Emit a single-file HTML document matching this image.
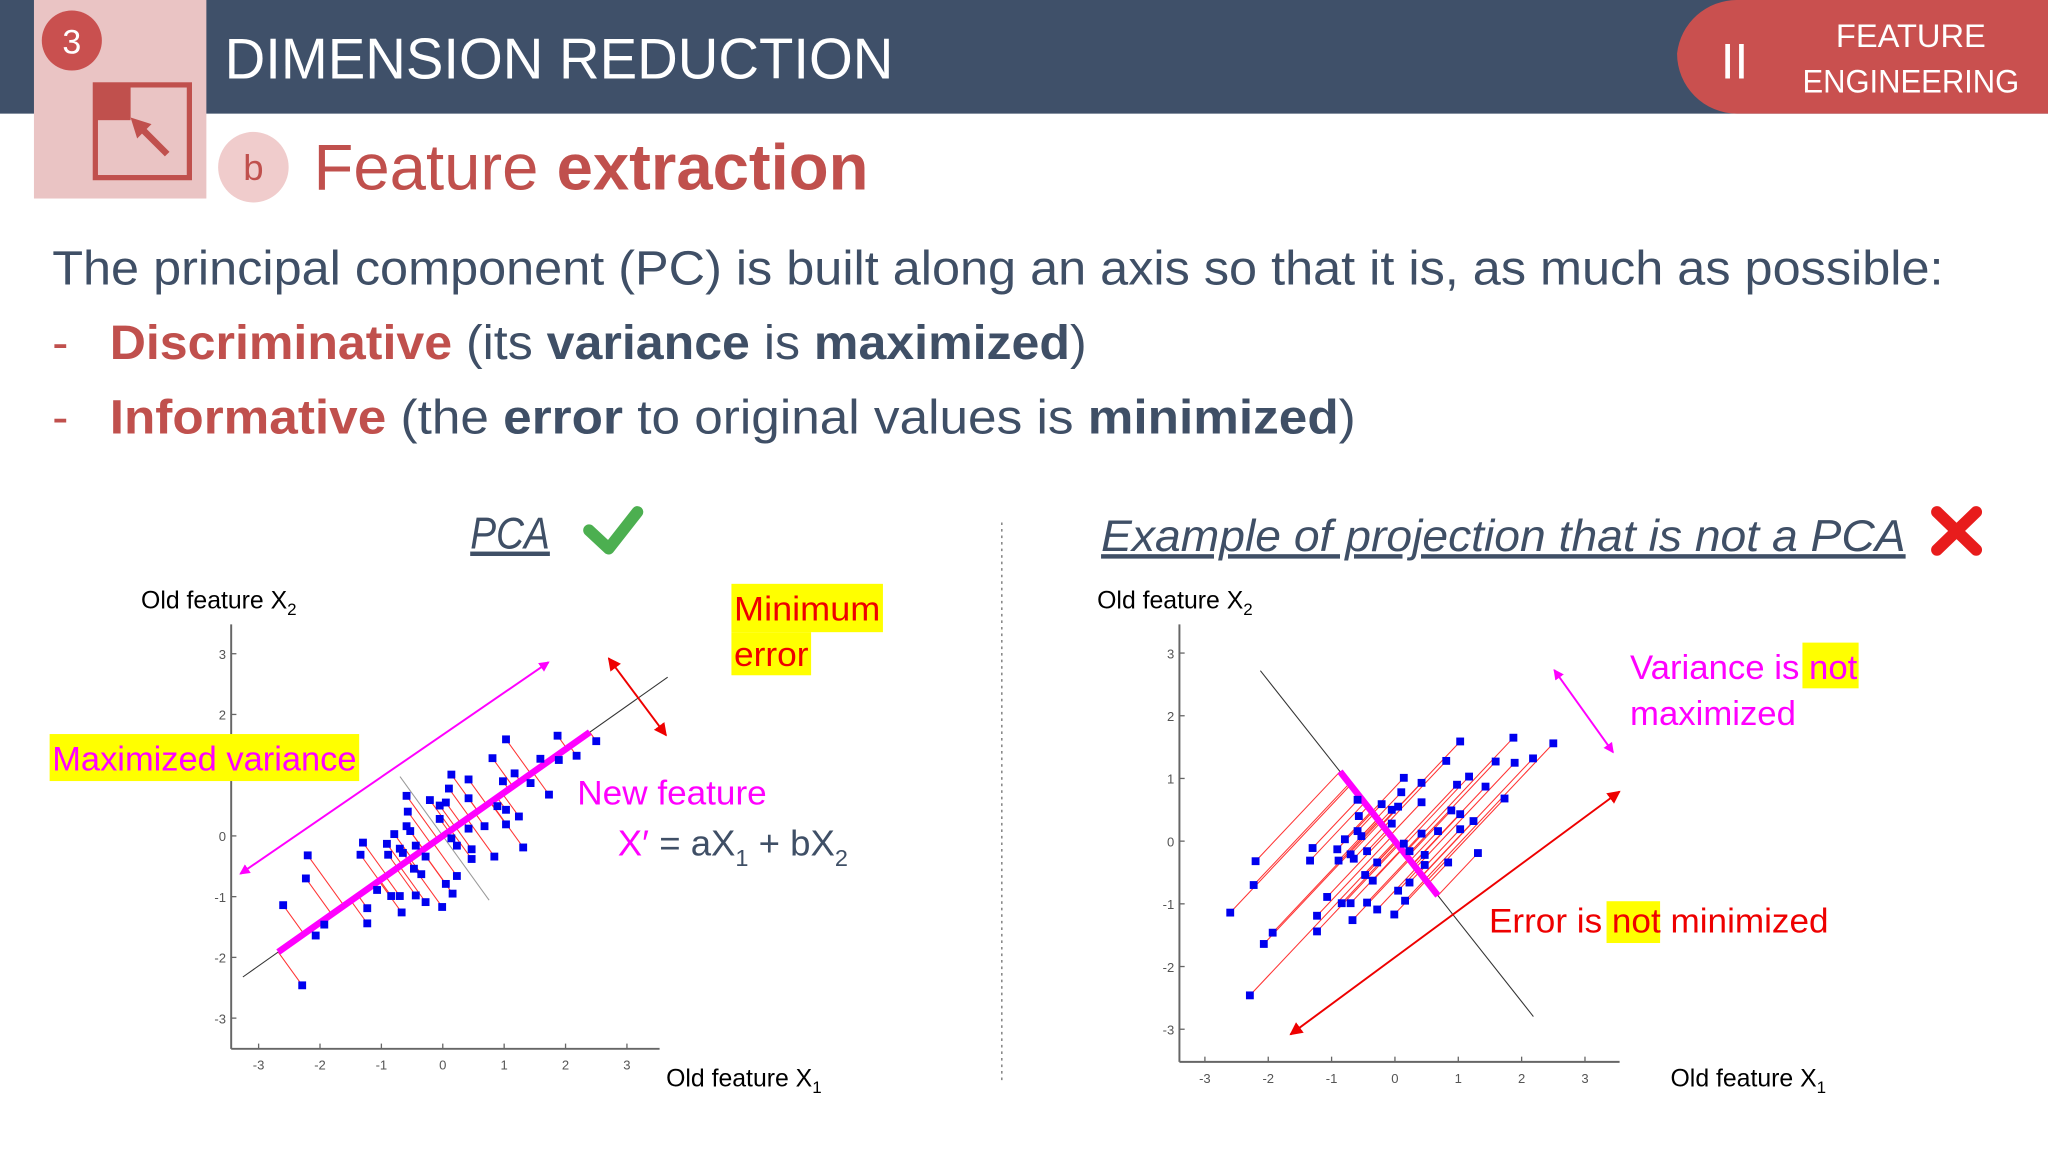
<!DOCTYPE html>
<html><head><meta charset="utf-8">
<style>
html,body{margin:0;padding:0;background:#fff;}
svg{display:block;font-family:"Liberation Sans",sans-serif;}
</style></head>
<body>
<svg id="slide" width="2048" height="1152" viewBox="0 0 1568 882" xmlns="http://www.w3.org/2000/svg">
<defs>
<marker id="mh" markerWidth="8" markerHeight="8" refX="7" refY="4" orient="auto-start-reverse" markerUnits="userSpaceOnUse"><path d="M0,0 L8,4 L0,8 z" fill="#f0f"/></marker>
<marker id="rh" markerWidth="10" markerHeight="10" refX="9" refY="5" orient="auto-start-reverse" markerUnits="userSpaceOnUse"><path d="M0,0 L10,5 L0,10 z" fill="#e00"/></marker>
</defs>
<rect x="0" y="0" width="1568" height="87" fill="#3f5069"/>
<rect x="26" y="0" width="132" height="152" fill="#eac4c4"/>
<circle cx="55" cy="31" r="23" fill="#c9504f"/>
<text x="55" y="41" font-size="26" fill="#fff" text-anchor="middle">3</text>
<rect x="73" y="65" width="72" height="71" fill="none" stroke="#c0504d" stroke-width="4"/>
<rect x="73" y="65" width="27" height="27" fill="#c0504d"/>
<line x1="128" y1="118" x2="106" y2="96" stroke="#c0504d" stroke-width="5"/>
<path d="M100,90 L116,95 L105,106 z" fill="#c0504d"/>
<text x="172" y="60" font-size="44" fill="#fff" textLength="512" lengthAdjust="spacingAndGlyphs">DIMENSION REDUCTION</text>
<path d="M1330,0 H1568 V87 H1330 A46,46 0 0 1 1284,41 A46,46 0 0 1 1330,0 z" fill="#c9504f"/>
<text x="1328" y="60" font-size="38" fill="#fff" text-anchor="middle">II</text>
<text x="1463" y="36" font-size="25" fill="#fff" text-anchor="middle">FEATURE</text>
<text x="1463" y="71" font-size="25" fill="#fff" text-anchor="middle" textLength="166" lengthAdjust="spacingAndGlyphs">ENGINEERING</text>
<circle cx="194" cy="128" r="27" fill="#f0cccc"/>
<text x="194" y="138" font-size="28" fill="#c0504d" text-anchor="middle">b</text>
<text x="240" y="145" font-size="50" fill="#c0504d" textLength="425" lengthAdjust="spacingAndGlyphs">Feature <tspan font-weight="bold">extraction</tspan></text>

<g font-size="37" fill="#3f4f66">
<text x="40" y="218" textLength="1448" lengthAdjust="spacingAndGlyphs">The principal component (PC) is built along an axis so that it is, as much as possible:</text>
<text x="40" y="275" fill="#c0504d">-</text>
<text x="84" y="275" textLength="748" lengthAdjust="spacingAndGlyphs"><tspan font-weight="bold" fill="#c0504d">Discriminative</tspan> (its <tspan font-weight="bold">variance</tspan> is <tspan font-weight="bold">maximized</tspan>)</text>
<text x="40" y="332" fill="#c0504d">-</text>
<text x="84" y="332" textLength="954" lengthAdjust="spacingAndGlyphs"><tspan font-weight="bold" fill="#c0504d">Informative</tspan> (the <tspan font-weight="bold">error</tspan> to original values is <tspan font-weight="bold">minimized</tspan>)</text>
</g>

<text x="360" y="420" font-size="34" font-style="italic" fill="#3f4f66" text-decoration="underline" textLength="61" lengthAdjust="spacingAndGlyphs">PCA</text>
<path d="M451,406 L466,420 L488,392" fill="none" stroke="#4caf50" stroke-width="9" stroke-linecap="round" stroke-linejoin="round"/>
<line x1="767" y1="400" x2="767" y2="828" stroke="#888" stroke-width="1.2" stroke-dasharray="2,3"/>
<text x="843" y="422" font-size="34" font-style="italic" fill="#3f4f66" text-decoration="underline" textLength="616" lengthAdjust="spacingAndGlyphs">Example of projection that is not a PCA</text>
<g stroke="#e81c1c" stroke-width="9" stroke-linecap="round"><line x1="1483" y1="392" x2="1513" y2="421"/><line x1="1513" y1="392" x2="1483" y2="421"/></g>

<g id="left"></g>
<g id="right"></g>

<rect x="560" y="447" width="116" height="37" fill="#ff0"/>
<rect x="560" y="484" width="61" height="33" fill="#ff0"/>
<text font-size="26" fill="#e00"><tspan x="562" y="475" textLength="112" lengthAdjust="spacingAndGlyphs">Minimum</tspan><tspan x="562" y="510" textLength="57" lengthAdjust="spacingAndGlyphs">error</tspan></text>
<line x1="466" y1="504" x2="510" y2="563" stroke="#e00" stroke-width="1.5" marker-start="url(#rh)" marker-end="url(#rh)"/>
<line x1="420" y1="507" x2="184" y2="669" stroke="#f0f" stroke-width="1.5" marker-start="url(#mh)" marker-end="url(#mh)"/>
<rect x="38" y="562" width="237" height="36" fill="#ff0"/>
<text x="40" y="590" font-size="26" fill="#f0f" textLength="233" lengthAdjust="spacingAndGlyphs">Maximized variance</text>
<text x="442" y="616" font-size="26" fill="#f0f" textLength="145" lengthAdjust="spacingAndGlyphs">New feature</text>
<text x="473" y="655" font-size="28" fill="#3f4f66"><tspan fill="#f0f">X′</tspan> = aX<tspan font-size="18" dy="8">1</tspan><tspan dy="-8"> + bX</tspan><tspan font-size="18" dy="8">2</tspan></text>

<rect x="1380" y="492" width="43" height="35" fill="#ff0"/>
<text font-size="26" fill="#f0f"><tspan x="1248" y="520" textLength="174" lengthAdjust="spacingAndGlyphs">Variance is not</tspan><tspan x="1248" y="555" textLength="127" lengthAdjust="spacingAndGlyphs">maximized</tspan></text>
<line x1="1190" y1="513" x2="1235" y2="576" stroke="#f0f" stroke-width="1.5" marker-start="url(#mh)" marker-end="url(#mh)"/>
<line x1="1240" y1="606" x2="988" y2="792" stroke="#e00" stroke-width="1.5" marker-start="url(#rh)" marker-end="url(#rh)"/>
<rect x="1230" y="690" width="41" height="32" fill="#ff0"/>
<text x="1140" y="714" font-size="26" fill="#e00" textLength="260" lengthAdjust="spacingAndGlyphs">Error is not minimized</text>
</svg>
<script>
const ptX=[1.03,1.87,2.5,2.18,0.81,1.59,1.89,0.14,0.42,0.98,1.17,1.43,1.73,-0.59,0.10,0.42,-0.05,0.05,0.89,1.24,1.03,-0.57,-0.21,-0.05,0.42,0.68,1.03,-0.59,-0.79,-0.53,0.14,0.23,0.47,0.47,0.84,1.31,-1.3,-0.91,-0.70,-1.34,-0.89,-0.65,-0.44,-0.28,-0.47,-0.35,0.23,0.05,0.16,-1.07,-0.84,-0.7,-0.44,-0.28,-0.01,-1.23,-0.67,-1.23,-2.2,-2.23,-2.6,-1.93,-2.07,-2.29];
const ptY=[1.59,1.65,1.56,1.32,1.28,1.27,1.25,1.01,0.93,0.9,1.03,0.87,0.68,0.66,0.78,0.62,0.5,0.55,0.49,0.32,0.43,0.40,0.59,0.28,0.12,0.16,0.19,0.16,0.03,0.08,-0.04,-0.16,-0.22,-0.38,-0.34,-0.19,-0.11,-0.13,-0.21,-0.31,-0.31,-0.28,-0.16,-0.34,-0.54,-0.63,-0.66,-0.79,-0.95,-0.89,-0.99,-0.99,-0.98,-1.09,-1.17,-1.19,-1.26,-1.44,-0.32,-0.7,-1.14,-1.46,-1.64,-2.46];
const tickVals=[-3,-2,-1,0,1,2,3];
const pcaAngleDeg=35.5;
const otherAxisAngleDeg=-52;
const otherProjAngleDeg=47;
const NS="http://www.w3.org/2000/svg";
function mk(p,tag,a){const e=document.createElementNS(NS,tag);for(const k in a)e.setAttribute(k,a[k]);p.appendChild(e);return e;}
function chart(g,cfg){
  const sx=v=>cfg.x0+v*cfg.kx, sy=v=>cfg.y0-v*cfg.ky;
  const ax=mk(g,'line',{x1:cfg.ax,y1:cfg.top,x2:cfg.ax,y2:cfg.ay,stroke:'#666','stroke-width':1.5});
  
  
  const bx=mk(g,'line',{x1:cfg.ax,y1:cfg.ay,x2:cfg.right,y2:cfg.ay,stroke:'#666','stroke-width':1.5});
  
  
  tickVals.forEach(v=>{
    mk(g,'line',{x1:sx(v),y1:cfg.ay,x2:sx(v),y2:cfg.ay-4,stroke:'#666'});
    const t=mk(g,'text',{x:sx(v),y:cfg.ay+16,'font-size':10,fill:'#555','text-anchor':'middle'});t.textContent=v;
    
    
    mk(g,'line',{x1:cfg.ax,y1:sy(v),x2:cfg.ax+4,y2:sy(v),stroke:'#666'});
    const u=mk(g,'text',{x:cfg.ax-4,y:sy(v)+4,'font-size':10,fill:'#555','text-anchor':'end'});u.textContent=v;
    
    
  });
  const yl=mk(g,'text',{x:cfg.ylx,y:466,'font-size':19,fill:'#000'});yl.innerHTML='Old feature X<tspan font-size="13" dy="5">2</tspan>';
  
  
  const xl=mk(g,'text',{x:cfg.xlx,y:832,'font-size':19,fill:'#000'});xl.innerHTML='Old feature X<tspan font-size="13" dy="5">1</tspan>';
  
  
  const a=cfg.axisDeg*Math.PI/180, ux=Math.cos(a), uy=Math.sin(a);
  const d=cfg.projDeg*Math.PI/180, dx=Math.cos(d), dy=Math.sin(d);
  const al=mk(g,'line',{x1:sx(-cfg.L*ux),y1:sy(-cfg.L*uy),x2:sx(cfg.L2*ux),y2:sy(cfg.L2*uy),stroke:'#333','stroke-width':0.8});
  
  
  if(cfg.perp){const pl=mk(g,'line',{x1:sx(-1.2*uy),y1:sy(1.2*ux),x2:sx(1.3*uy),y2:sy(-1.3*ux),stroke:'#999','stroke-width':0.8});
    
    }
  let tmin=1e9,tmax=-1e9;const proj=[];
  ptX.forEach((x,i)=>{const y=ptY[i];
    const det=ux*(-dy)-(-dx)*uy;
    const t=(x*(-dy)-(-dx)*y)/det;
    proj.push([t*ux,t*uy]);tmin=Math.min(tmin,t);tmax=Math.max(tmax,t);});
  ptX.forEach((x,i)=>{const l=mk(g,'line',{x1:sx(x),y1:sy(ptY[i]),x2:sx(proj[i][0]),y2:sy(proj[i][1]),stroke:'#f33','stroke-width':0.8});
    
    });
  const pk=mk(g,'line',{x1:sx(tmin*ux),y1:sy(tmin*uy),x2:sx(tmax*ux),y2:sy(tmax*uy),stroke:'#f0f','stroke-width':5});
  
  
  ptX.forEach((x,i)=>{const r=mk(g,'rect',{x:sx(x)-3,y:sy(ptY[i])-3,width:6,height:6,fill:'#00e'});
    
    });
}
chart(document.getElementById('left'),{x0:339,y0:640,kx:47,ky:46.5,ax:177,ay:803,top:478,right:505,ylx:108,xlx:510,axisDeg:pcaAngleDeg,projDeg:pcaAngleDeg+90,L:4.0,L2:4.5,perp:true});
chart(document.getElementById('right'),{x0:1068,y0:644,kx:48.5,ky:48,ax:903,ay:813,top:478,right:1240,ylx:840,xlx:1279,axisDeg:otherAxisAngleDeg,projDeg:otherProjAngleDeg,L:3.45,L2:3.55,perp:false});
</script>
</body></html>
